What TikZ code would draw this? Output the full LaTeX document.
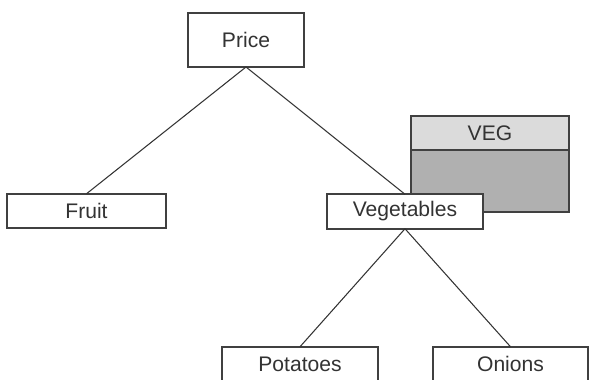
\documentclass[tikz,border=0pt]{standalone}
\usepackage{fontspec}
\setmainfont{Liberation Sans}
\begin{document}
\begin{tikzpicture}[line width=0.6pt,
  box/.style={draw=black!75, line width=1.1pt, fill=white, text=black!80,
    font=\fontsize{12}{14}\selectfont, inner sep=0pt, outer sep=0pt, minimum height=0.69cm},
  link/.style={draw=black!80, line width=0.6pt}]
  \clip (0,0) rectangle (11.78,7.58);
  % VEG table
  \node[box, fill=black!14, minimum width=3.16cm, minimum height=0.68cm] (vegtitle) at (9.80,4.92) {VEG};
  \node[box, fill=black!31, minimum width=3.16cm, minimum height=1.24cm, anchor=north] (vegbody) at (vegtitle.south) {};
  % tree
  \node[box, minimum width=2.32cm, minimum height=1.08cm] (price) at (4.92,6.78) {Price};
  \node[box, minimum width=3.18cm] (fruit) at (1.73,3.36) {Fruit};
  \node[box, minimum width=3.12cm] (veg) at (8.10,3.35) {Vegetables};
  \node[box, minimum width=3.12cm] (potatoes) at (6.00,0.30) {Potatoes};
  \node[box, minimum width=3.10cm] (onions) at (10.21,0.30) {Onions};
  \draw[link] (price.south) -- (fruit.north);
  \draw[link] (price.south) -- (veg.north);
  \draw[link] (veg.south) -- (potatoes.north);
  \draw[link] (veg.south) -- (onions.north);
\end{tikzpicture}
\end{document}
